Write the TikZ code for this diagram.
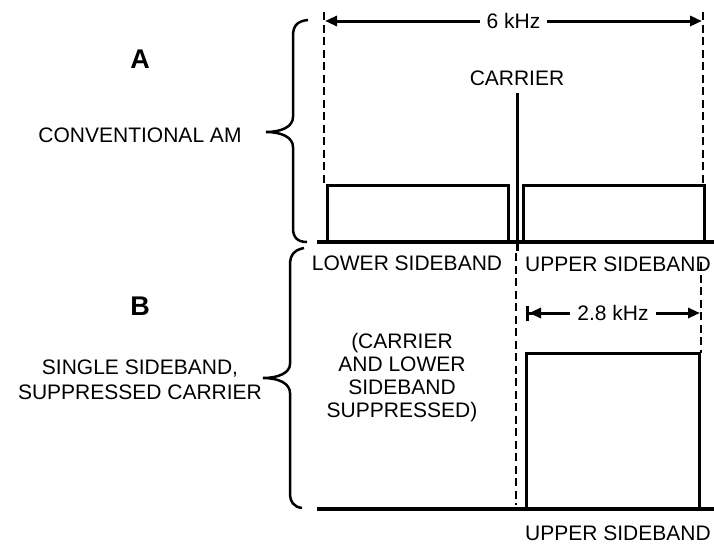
\documentclass[tikz,border=0pt]{standalone}
\usepackage{fontspec}
\setmainfont{Liberation Sans}
\usetikzlibrary{arrows.meta}
\tikzset{
  lbl/.style={font=\fontsize{21}{23}\selectfont, inner sep=0pt, align=center},
  biglbl/.style={font=\fontsize{27}{29}\selectfont\bfseries, inner sep=0pt},
  solidline/.style={line width=3pt},
  baseline/.style={line width=3.5pt},
  dashline/.style={line width=2.5pt, dash pattern=on 8pt off 4.5pt},
  bracel/.style={line width=2.5pt},
  dimarrow/.style={line width=3pt, {Triangle[length=12pt,width=10pt]}-{Triangle[length=12pt,width=10pt]}},
  dimarrowbar/.style={line width=3pt, {Bar[width=15pt]Triangle[length=12pt,width=10pt]}-{Triangle[length=12pt,width=10pt]}},
}
\begin{document}
\begin{tikzpicture}[x=1pt,y=-1pt]
\useasboundingbox (0,0) rectangle (714,544);

% ---------- left labels ----------
\node[biglbl] (lA) at (140,59) {A};
\node[lbl] (conv) at (140,135) {CONVENTIONAL AM};
\node[biglbl] (lB) at (140,306) {B};
\node[lbl, font=\fontsize{21}{25}\selectfont] (ssb) at (140,380) {SINGLE SIDEBAND,\\SUPPRESSED CARRIER};

% ---------- braces ----------
\draw[bracel] (308,20) .. controls (297,21) and (293,26) .. (293,36)
  -- (293,117) .. controls (293,127) and (281,132) .. (266,132)
  .. controls (281,132) and (293,137) .. (293,147)
  -- (293,228) .. controls (293,237) and (297,242) .. (307,242);
\draw[bracel] (304,248) .. controls (294,250) and (290,255) .. (290,265)
  -- (290,364) .. controls (290,373) and (278,378) .. (263,378)
  .. controls (278,378) and (290,383) .. (290,393)
  -- (290,493) .. controls (290,502) and (294,507) .. (302,508);

% ---------- section A ----------
\coordinate (aL0) at (317,242);
\coordinate (aL1) at (714,242);
\draw[baseline] (aL0) -- (aL1);

\coordinate (dl0) at (324,12);
\coordinate (dl1) at (324,185);
\coordinate (dr0) at (703,12);
\coordinate (dr1) at (703,185);
\draw[dashline] (dl0) -- (dl1);
\draw[dashline] (dr0) -- (dr1);

\coordinate (w6l) at (325,21);
\coordinate (w6r) at (702,21);
\draw[dimarrow] (w6l) -- node[lbl, fill=white, inner xsep=7pt, inner ysep=2pt] (f6) {6 kHz} (w6r);

\node[lbl] (carr) at (517,78) {CARRIER};
\coordinate (c0) at (517,93);
\coordinate (c1) at (517,251);
\draw[solidline] (c0) -- (c1);

\draw[solidline] (327,242) -- (327,185) -- (508,185) -- (508,242);
\draw[solidline] (523,242) -- (523,185) -- (704,185) -- (704,242);

\node[lbl] (lsb) at (407,263) {LOWER SIDEBAND};
\node[lbl] (usb1) at (618,264) {UPPER SIDEBAND};

% ---------- section B ----------
\coordinate (bL0) at (317,509);
\coordinate (bL1) at (714,509);
\draw[baseline] (bL0) -- (bL1);

\coordinate (e0) at (516,253);
\coordinate (e1) at (516,505);
\draw[dashline] (e0) -- (e1);
\coordinate (g0) at (701,262);
\coordinate (g1) at (701,353);
\draw[dashline] (g0) -- (g1);

\coordinate (w2l) at (526,313);
\coordinate (w2r) at (700,313);
\draw[dimarrowbar] (w2l) -- node[lbl, fill=white, inner xsep=7pt, inner ysep=2pt] (f28) {2.8 kHz} (w2r);

\draw[solidline] (526,509) -- (526,353) -- (699,353) -- (699,509);

\node[lbl] (supp) at (402,378) {(CARRIER\\AND LOWER\\SIDEBAND\\SUPPRESSED)};
\node[lbl] (usb2) at (618,533) {UPPER SIDEBAND};
\end{tikzpicture}
\end{document}
